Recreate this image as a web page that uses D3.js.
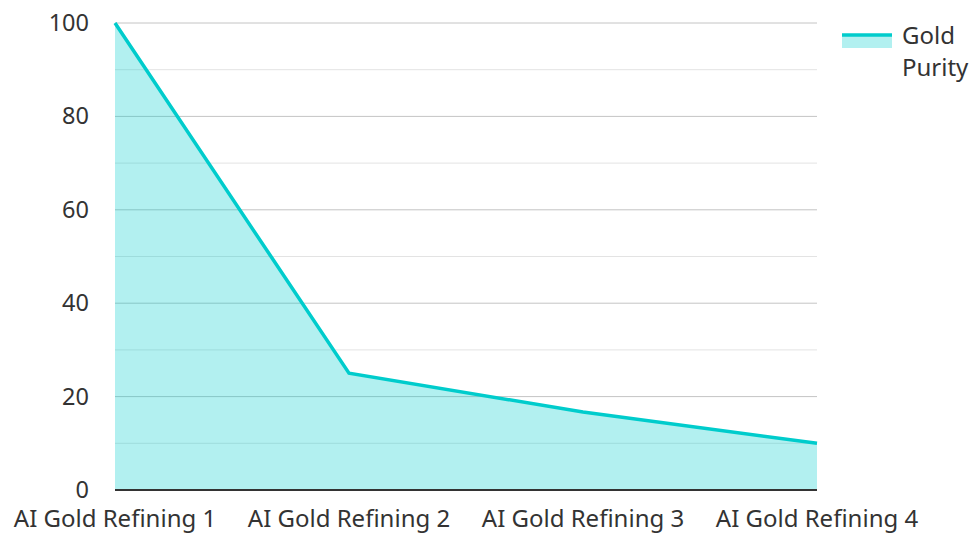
<!DOCTYPE html>
<html>
<head>
<meta charset="utf-8">
<script src="https://cdn.jsdelivr.net/npm/d3@7"></script>
<style>
  body { margin: 0; background: #fff; }
  text { font-family: "Noto Sans", sans-serif; fill: #333; }
</style>
</head>
<body>
<script>
const width = 972;
const height = 533;

// data
const categories = ["AI Gold Refining 1", "AI Gold Refining 2", "AI Gold Refining 3", "AI Gold Refining 4"];
const purity = [100, 25, 16.7, 10];
const majorTicks = [0, 20, 40, 60, 80, 100];
const minorTicks = [10, 30, 50, 70, 90];
const seriesName = ["Gold", "Purity"];

const plotLeft = 115, plotRight = 817, plotTop = 23, plotBottom = 490;

const svg = d3.select("body").append("svg")
  .attr("width", width)
  .attr("height", height);

const x = d3.scalePoint()
  .domain(categories)
  .range([plotLeft, plotRight]);

const y = d3.scaleLinear()
  .domain([0, 100])
  .range([plotBottom, plotTop]);

// minor grid
svg.selectAll(".minor")
  .data(minorTicks)
  .enter()
  .append("line")
  .attr("x1", plotLeft).attr("x2", plotRight)
  .attr("y1", d => y(d)).attr("y2", d => y(d))
  .attr("stroke", "#e3e3e3")
  .attr("stroke-width", 1);

// major grid
svg.selectAll(".major")
  .data(majorTicks.filter(d => d > 0))
  .enter()
  .append("line")
  .attr("x1", plotLeft).attr("x2", plotRight)
  .attr("y1", d => y(d)).attr("y2", d => y(d))
  .attr("stroke", "#c4c4c4")
  .attr("stroke-width", 1);

const pts = categories.map((c, i) => [x(c), y(purity[i])]);

svg.append("path")
  .datum(pts)
  .attr("d", d3.area().x(d => d[0]).y0(y(0)).y1(d => d[1]))
  .attr("fill", "rgba(0,204,204,0.3)");

svg.append("path")
  .datum(pts)
  .attr("d", d3.line().x(d => d[0]).y(d => d[1]))
  .attr("fill", "none")
  .attr("stroke", "#00cccc")
  .attr("stroke-width", 3.5);

// baseline
svg.append("line")
  .attr("x1", plotLeft).attr("x2", plotRight)
  .attr("y1", y(0)).attr("y2", y(0))
  .attr("stroke", "#333")
  .attr("stroke-width", 2);

// y labels
svg.selectAll(".ylab")
  .data(majorTicks)
  .enter()
  .append("text")
  .attr("x", 89)
  .attr("y", d => y(d) + 8)
  .attr("text-anchor", "end")
  .attr("font-size", 23.5)
  .text(d => d);

// x labels
svg.selectAll(".xlab")
  .data(categories)
  .enter()
  .append("text")
  .attr("x", d => x(d))
  .attr("y", 527)
  .attr("text-anchor", "middle")
  .attr("font-size", 24)
  .text(d => d);

// legend
svg.append("rect")
  .attr("x", 842).attr("y", 34)
  .attr("width", 50).attr("height", 14)
  .attr("fill", "rgba(0,204,204,0.3)");
svg.append("line")
  .attr("x1", 842).attr("x2", 892)
  .attr("y1", 35).attr("y2", 35)
  .attr("stroke", "#00cccc")
  .attr("stroke-width", 3.5);
svg.selectAll(".leg")
  .data(seriesName)
  .enter()
  .append("text")
  .attr("x", 902)
  .attr("y", (d, i) => 44 + i * 32)
  .attr("font-size", 24)
  .text(d => d);
</script>
</body>
</html>
